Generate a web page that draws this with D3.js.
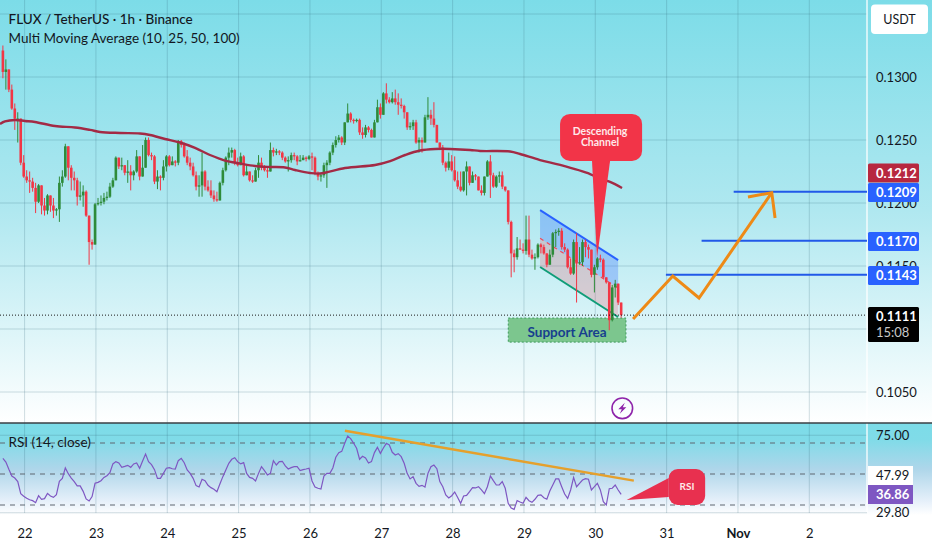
<!DOCTYPE html>
<html>
<head>
<meta charset="utf-8">
<script src="https://cdn.jsdelivr.net/npm/d3@7"></script>
<style>
html, body { margin: 0; padding: 0; background: #fff; }
svg { display: block; }
text { font-family: Lato, "Open Sans", sans-serif; fill: #131722; }
.axis path, .axis line { display: none; }
</style>
</head>
<body>
<div id="chart"></div>
<script>
var outerWidth = 932,
    outerHeight = 550,
    paneRight = 867,
    separatorY = 423;

// hourly candles, first one is about 7h before the 22nd
var candleOffset = 7.3;
var firstOpen = 0.1321;
var closes = [
0.1304,0.1306,0.1290,0.1275,0.1267,0.1267,0.1232,0.1221,0.1218,0.1217,
0.1212,0.1201,0.1214,0.1198,0.1194,0.1206,0.1198,0.1194,0.1195,0.1216,
0.1221,0.1245,0.1228,0.1220,0.1218,0.1205,0.1206,0.1209,0.1190,0.1169,
0.1167,0.1199,0.1200,0.1201,0.1204,0.1205,0.1213,0.1218,0.1236,0.1229,
0.1230,0.1224,0.1225,0.1222,0.1225,0.1237,0.1221,0.1228,0.1250,0.1238,
0.1237,0.1217,0.1221,0.1220,0.1229,0.1237,0.1230,0.1233,0.1232,0.1249,
0.1246,0.1237,0.1232,0.1229,0.1222,0.1213,0.1214,0.1225,0.1213,0.1210,
0.1206,0.1203,0.1202,0.1216,0.1226,0.1236,0.1240,0.1242,0.1232,0.1230,
0.1237,0.1222,0.1225,0.1218,0.1217,0.1226,0.1232,0.1228,0.1226,0.1225,
0.1242,0.1240,0.1241,0.1240,0.1236,0.1233,0.1234,0.1238,0.1237,0.1233,
0.1234,0.1236,0.1235,0.1237,0.1236,0.1224,0.1221,0.1222,0.1230,0.1232,
0.1240,0.1246,0.1250,0.1252,0.1248,0.1264,0.1271,0.1266,0.1265,0.1266,
0.1256,0.1254,0.1260,0.1258,0.1252,0.1264,0.1276,0.1270,0.1287,0.1282,
0.1280,0.1283,0.1280,0.1278,0.1277,0.1272,0.1260,0.1261,0.1264,0.1248,
0.1250,0.1248,0.1268,0.1270,0.1267,0.1262,0.1248,0.1244,0.1232,0.1228,
0.1233,0.1226,0.1218,0.1213,0.1210,0.1225,0.1229,0.1216,0.1222,0.1221,
0.1210,0.1208,0.1221,0.1233,0.1222,0.1213,0.1221,0.1222,0.1213,0.1210,
0.1185,0.1160,0.1157,0.1164,0.1163,0.1162,0.1171,0.1159,0.1156,0.1157,
0.1167,0.1165,0.1160,0.1151,0.1159,0.1176,0.1177,0.1178,0.1165,0.1163,
0.1149,0.1144,0.1169,0.1152,0.1153,0.1169,0.1165,0.1163,0.1143,0.1149,
0.1156,0.1155,0.1141,0.1137,0.1107,0.1133,0.1136,0.1121,0.1111];
var highs = [
0.1325,0.1314,0.1306,0.1294,0.1279,0.1272,0.1267,0.1238,0.1226,0.1225,
0.1220,0.1216,0.1215,0.1214,0.1204,0.1207,0.1206,0.1204,0.1196,0.1221,
0.1226,0.1247,0.1244,0.1230,0.1225,0.1220,0.1217,0.1214,0.1210,0.1190,
0.1171,0.1200,0.1204,0.1206,0.1208,0.1209,0.1216,0.1220,0.1237,0.1236,
0.1236,0.1230,0.1234,0.1230,0.1226,0.1242,0.1236,0.1246,0.1252,0.1252,
0.1240,0.1238,0.1226,0.1222,0.1234,0.1238,0.1238,0.1237,0.1234,0.1250,
0.1250,0.1248,0.1242,0.1236,0.1232,0.1225,0.1222,0.1240,0.1226,0.1218,
0.1218,0.1210,0.1209,0.1217,0.1228,0.1237,0.1244,0.1244,0.1243,0.1236,
0.1240,0.1238,0.1230,0.1225,0.1222,0.1228,0.1238,0.1236,0.1230,0.1228,
0.1248,0.1244,0.1243,0.1242,0.1241,0.1237,0.1237,0.1240,0.1240,0.1238,
0.1238,0.1238,0.1237,0.1238,0.1240,0.1237,0.1225,0.1223,0.1232,0.1234,
0.1241,0.1248,0.1253,0.1254,0.1253,0.1264,0.1279,0.1272,0.1267,0.1267,
0.1267,0.1260,0.1262,0.1261,0.1259,0.1266,0.1282,0.1279,0.1288,0.1295,
0.1284,0.1288,0.1290,0.1287,0.1283,0.1278,0.1272,0.1264,0.1266,0.1266,
0.1252,0.1252,0.1270,0.1284,0.1274,0.1280,0.1262,0.1248,0.1246,0.1233,
0.1240,0.1238,0.1237,0.1225,0.1225,0.1225,0.1233,0.1229,0.1225,0.1223,
0.1221,0.1214,0.1221,0.1234,0.1238,0.1224,0.1222,0.1225,0.1225,0.1213,
0.1210,0.1186,0.1163,0.1173,0.1171,0.1168,0.1190,0.1190,0.1163,0.1160,
0.1168,0.1168,0.1167,0.1160,0.1163,0.1177,0.1179,0.1180,0.1180,0.1168,
0.1164,0.1156,0.1171,0.1176,0.1165,0.1171,0.1171,0.1167,0.1163,0.1151,
0.1157,0.1159,0.1156,0.1141,0.1133,0.1135,0.1139,0.1136,0.1121];
var lows = [
0.1299,0.1290,0.1288,0.1274,0.1258,0.1248,0.1230,0.1220,0.1216,0.1208,
0.1209,0.1192,0.1200,0.1191,0.1190,0.1191,0.1193,0.1188,0.1190,0.1185,
0.1213,0.1220,0.1218,0.1210,0.1210,0.1198,0.1202,0.1197,0.1189,0.1151,
0.1163,0.1167,0.1198,0.1198,0.1199,0.1202,0.1204,0.1212,0.1218,0.1227,
0.1226,0.1222,0.1216,0.1210,0.1218,0.1224,0.1218,0.1226,0.1234,0.1237,
0.1234,0.1215,0.1211,0.1210,0.1218,0.1225,0.1229,0.1230,0.1229,0.1230,
0.1244,0.1236,0.1230,0.1226,0.1221,0.1210,0.1205,0.1205,0.1210,0.1209,
0.1204,0.1201,0.1201,0.1202,0.1214,0.1225,0.1230,0.1236,0.1230,0.1229,
0.1230,0.1221,0.1222,0.1217,0.1216,0.1217,0.1220,0.1226,0.1225,0.1220,
0.1225,0.1237,0.1238,0.1238,0.1234,0.1232,0.1225,0.1232,0.1234,0.1230,
0.1233,0.1234,0.1233,0.1234,0.1226,0.1222,0.1218,0.1217,0.1220,0.1212,
0.1230,0.1238,0.1244,0.1248,0.1246,0.1246,0.1264,0.1264,0.1263,0.1264,
0.1254,0.1251,0.1252,0.1256,0.1252,0.1252,0.1264,0.1267,0.1274,0.1279,
0.1279,0.1279,0.1278,0.1270,0.1275,0.1267,0.1258,0.1258,0.1258,0.1247,
0.1240,0.1240,0.1248,0.1266,0.1262,0.1260,0.1248,0.1242,0.1230,0.1225,
0.1226,0.1225,0.1217,0.1211,0.1209,0.1209,0.1206,0.1214,0.1218,0.1218,
0.1210,0.1206,0.1206,0.1222,0.1204,0.1212,0.1212,0.1216,0.1211,0.1209,
0.1183,0.1141,0.1145,0.1155,0.1163,0.1160,0.1159,0.1157,0.1155,0.1147,
0.1156,0.1160,0.1159,0.1149,0.1151,0.1157,0.1165,0.1174,0.1163,0.1161,
0.1148,0.1143,0.1143,0.1121,0.1151,0.1150,0.1157,0.1156,0.1141,0.1129,
0.1147,0.1153,0.1140,0.1136,0.1099,0.1106,0.1125,0.1119,0.1109];

// the 100 MA, read at irregular days
var maDays = [21.655,21.725,21.865,22.006,22.146,22.426,22.707,22.917,23.057,23.338,23.618,23.758,23.968,24.179,24.389,24.599,24.810,25.020,25.230,25.441,25.651,25.791,26.002,26.142,26.493,26.913,27.124,27.334,27.544,27.755,27.965,28.245,28.385,28.806,28.946,29.226,29.507,29.927,30.067,30.207,30.375];
var maValues = [0.12627,0.12647,0.12659,0.12651,0.12643,0.12611,0.12599,0.12580,0.12564,0.12556,0.12552,0.12540,0.12508,0.12480,0.12437,0.12381,0.12337,0.12314,0.12294,0.12286,0.12282,0.12262,0.12238,0.12234,0.12278,0.12302,0.12333,0.12381,0.12417,0.12429,0.12429,0.12421,0.12413,0.12409,0.12389,0.12341,0.12302,0.12230,0.12191,0.12167,0.12119];

var rsiValues = [
60.1,57.7,53.0,48.7,47.4,45.1,37.3,35.6,34.3,33.4,32.8,31.5,36.0,33.7,34.1,37.5,35.8,34.9,36.7,45.3,
47.2,53.9,50.2,47.4,45.1,42.3,42.3,38.8,33.9,32.6,35.4,44.0,44.6,45.7,47.8,48.9,50.9,56.5,58.0,57.1,
54.3,54.9,55.6,54.3,56.5,57.1,53.7,58.4,62.9,58.0,56.0,52.8,47.2,47.2,50.4,53.7,54.1,53.4,53.2,58.6,
60.1,57.3,52.6,50.4,47.2,42.5,41.6,46.6,45.7,42.7,41.2,40.1,38.6,43.5,48.3,52.6,56.9,59.5,60.5,58.0,
56.5,57.3,50.4,47.8,47.2,45.5,50.4,54.7,52.2,49.4,50.4,58.6,55.8,58.0,58.2,55.2,53.2,54.1,54.7,54.7,
52.2,52.8,53.2,53.7,45.5,41.6,40.8,40.3,48.7,50.4,50.4,53.9,60.8,63.8,64.6,69.8,74.5,72.8,69.8,66.6,
59.5,61.4,60.3,57.1,58.0,63.8,67.2,63.3,66.8,69.8,68.7,64.0,62.3,63.1,61.2,56.9,50.4,46.8,48.3,44.0,
42.0,42.7,41.6,50.4,54.7,55.8,53.4,45.1,41.8,36.5,34.5,36.0,38.4,34.9,31.1,35.8,36.2,38.6,41.2,41.0,
41.8,39.7,37.3,41.8,48.7,45.7,42.9,42.9,45.1,40.8,31.1,28.1,27.2,32.8,31.9,31.1,34.9,32.8,31.7,33.7,
36.2,36.5,34.7,33.7,39.0,42.9,46.8,46.8,41.8,37.1,34.3,39.7,47.8,41.8,44.0,46.1,47.0,46.6,39.7,41.8,
44.0,39.7,32.2,30.0,40.5,40.8,42.9,39.7,36.86];

var dayTicks = [22,23,24,25,26,27,28,29,30,31,32,33];
var dayLabels = ["22","23","24","25","26","27","28","29","30","31","Nov","2"];
var priceGrid = [0.105,0.11,0.115,0.12,0.125,0.13,0.135];
var priceTicks = [0.105,0.115,0.12,0.125,0.13];
var rsiBands = [70,50,30];
var rsiGrid = [75,25];
var rsiGridLabels = ["75.00","29.80"];

// drawings on the chart
var levelStarts = [30.99,31.49,31.94];
var levelPrices = [0.1143,0.1170,0.1209];
var lastPrice = 0.1111;
var maLast = 0.1212;
var channelDays = [29.226,30.32];
var channelTop = [0.11944,0.11547];
var channelMid = [0.1172,0.11325];
var channelBottom = [0.11492,0.11095];
var supportDays = [28.78,30.43];
var supportPrices = [0.11087,0.10896];
var pathDays = [30.53,31.086,31.454,32.474];
var pathPrices = [0.11079,0.1142,0.11246,0.12082];
var arrowDays = [32.14,32.474,32.52];
var arrowPrices = [0.12048,0.12082,0.11881];
var rsiTrendDays = [26.49,30.54];
var rsiTrendValues = [77.9,45.7];

var x = d3.scaleLinear().domain([22, 33]).range([24.6, 809.3]);
var y = d3.scaleLinear().domain([0.105, 0.13]).range([392, 77]);
var yRsi = d3.scaleLinear().domain([30, 70]).range([505, 443]);

function candleX(i) { return x(22 + (i - candleOffset) / 24); }

var svg = d3.select("#chart").append("svg")
    .attr("width", outerWidth)
    .attr("height", outerHeight);

var defs = svg.append("defs");
var g1 = defs.append("linearGradient").attr("id", "bgMain")
    .attr("x1", 0).attr("x2", 0).attr("y1", 0).attr("y2", 1);
g1.append("stop").attr("offset", 0).attr("stop-color", "#7cdce8");
g1.append("stop").attr("offset", 0.5).attr("stop-color", "#b0e8f0");
g1.append("stop").attr("offset", 1).attr("stop-color", "#ffffff");
var g2 = defs.append("linearGradient").attr("id", "bgRsi")
    .attr("x1", 0).attr("x2", 0).attr("y1", 0).attr("y2", 1);
g2.append("stop").attr("offset", 0).attr("stop-color", "#7cdce8");
g2.append("stop").attr("offset", 0.18).attr("stop-color", "#80dbe8");
g2.append("stop").attr("offset", 0.5).attr("stop-color", "#aed6ea");
g2.append("stop").attr("offset", 0.85).attr("stop-color", "#e6f0fa");
g2.append("stop").attr("offset", 1).attr("stop-color", "#ffffff");

svg.append("rect").attr("width", outerWidth).attr("height", separatorY)
    .attr("fill", "url(#bgMain)");
svg.append("rect").attr("y", separatorY).attr("width", outerWidth).attr("height", 92)
    .attr("fill", "url(#bgRsi)");

// grid
var gridColor = "rgba(50,100,120,0.22)";
svg.selectAll(".vgrid").data(dayTicks).enter().append("line")
    .attr("class", "vgrid")
    .attr("x1", x).attr("x2", x)
    .attr("y1", 0).attr("y2", 513)
    .attr("stroke", gridColor);
svg.selectAll(".hgrid").data(priceGrid).enter().append("line")
    .attr("class", "hgrid")
    .attr("x1", 0).attr("x2", paneRight)
    .attr("y1", y).attr("y2", y)
    .attr("stroke", gridColor);
svg.selectAll(".rgrid").data(rsiGrid).enter().append("line")
    .attr("class", "rgrid")
    .attr("x1", 0).attr("x2", paneRight)
    .attr("y1", yRsi).attr("y2", yRsi)
    .attr("stroke", gridColor);

svg.append("line")
    .attr("x1", paneRight).attr("x2", paneRight)
    .attr("y1", 0).attr("y2", 512)
    .attr("stroke", "rgba(255,255,255,0.85)").attr("stroke-width", 1.5);

// channel
var line = d3.line().x(function(d) { return x(d[0]); }).y(function(d) { return y(d[1]); });
function pts(days, values) { return days.map(function(d, i) { return [d, values[i]]; }); }
var topPts = pts(channelDays, channelTop),
    midPts = pts(channelDays, channelMid),
    botPts = pts(channelDays, channelBottom);

svg.append("path").attr("d", line(topPts.concat(midPts.slice().reverse())) + "Z")
    .attr("fill", "rgba(41,98,255,0.28)");
svg.append("path").attr("d", line(midPts.concat(botPts.slice().reverse())) + "Z")
    .attr("fill", "rgba(242,54,69,0.2)");
svg.append("path").attr("d", line(midPts)).attr("fill", "none")
    .attr("stroke", "#f2495a").attr("stroke-width", 1.2).attr("stroke-dasharray", "4 4");
svg.append("path").attr("d", line(topPts)).attr("fill", "none")
    .attr("stroke", "#2962ff").attr("stroke-width", 2);
svg.append("path").attr("d", line(botPts)).attr("fill", "none")
    .attr("stroke", "#0f9d78").attr("stroke-width", 2);

// support area
svg.append("rect")
    .attr("x", x(supportDays[0]))
    .attr("y", y(supportPrices[0]))
    .attr("width", x(supportDays[1]) - x(supportDays[0]))
    .attr("height", y(supportPrices[1]) - y(supportPrices[0]))
    .attr("fill", "#7cc68e")
    .attr("stroke", "#3f9a5c").attr("stroke-dasharray", "2 2");
svg.append("text")
    .attr("x", x((supportDays[0] + supportDays[1]) / 2))
    .attr("y", y((supportPrices[0] + supportPrices[1]) / 2) + 2)
    .attr("dy", "0.35em").attr("text-anchor", "middle")
    .style("font-size", "13.5px").style("font-weight", 700).style("fill", "#173f8e")
    .text("Support Area");

// candles
var upColor = "#2e8b3a", downColor = "#f23645";
var candles = closes.map(function(c, i) {
    return { i: i, o: i == 0 ? firstOpen : closes[i - 1], c: c, h: highs[i], l: lows[i] };
});
function candleColor(d) { return d.c >= d.o ? upColor : downColor; }

svg.selectAll(".wick").data(candles).enter().append("line")
    .attr("class", "wick")
    .attr("x1", function(d) { return candleX(d.i); })
    .attr("x2", function(d) { return candleX(d.i); })
    .attr("y1", function(d) { return y(Math.max(d.h, d.o, d.c)); })
    .attr("y2", function(d) { return y(Math.min(d.l, d.o, d.c)); })
    .attr("stroke", candleColor).attr("stroke-width", 1);
svg.selectAll(".body").data(candles).enter().append("rect")
    .attr("class", "body")
    .attr("x", function(d) { return candleX(d.i) - 1.3; })
    .attr("width", 2.6)
    .attr("y", function(d) { return y(Math.max(d.o, d.c)); })
    .attr("height", function(d) { return Math.max(1, Math.abs(y(d.o) - y(d.c))); })
    .attr("fill", candleColor);

// MA
svg.append("path")
    .attr("d", d3.line().curve(d3.curveCatmullRom)
        .x(function(d) { return x(d[0]); }).y(function(d) { return y(d[1]); })(pts(maDays, maValues)))
    .attr("fill", "none").attr("stroke", "#a32a45").attr("stroke-width", 2.4);

// last price line
svg.append("line")
    .attr("x1", 0).attr("x2", paneRight)
    .attr("y1", y(lastPrice)).attr("y2", y(lastPrice))
    .attr("stroke", "#1a1a1a").attr("stroke-dasharray", "1 2");

// target levels
svg.selectAll(".level").data(levelPrices).enter().append("line")
    .attr("class", "level")
    .attr("x1", function(d, i) { return x(levelStarts[i]); })
    .attr("x2", paneRight)
    .attr("y1", y).attr("y2", y)
    .attr("stroke", "#2159e8").attr("stroke-width", 2);

// projected path
svg.append("path").attr("d", line(pts(pathDays, pathPrices)))
    .attr("fill", "none").attr("stroke", "#ee8a16").attr("stroke-width", 3);
svg.append("path").attr("d", line(pts(arrowDays, arrowPrices)))
    .attr("fill", "none").attr("stroke", "#ee8a16").attr("stroke-width", 3);

// Descending Channel callout
var calloutRed = "#f23448";
var calloutDays = [29.506, 30.656], calloutPrices = [0.12707, 0.12333];
var calloutTip = [[29.954, 0.12333], [30.024, 0.11563], [30.207, 0.12333]];
svg.append("path").attr("d", line(calloutTip) + "Z").attr("fill", calloutRed);
svg.append("rect")
    .attr("x", x(calloutDays[0])).attr("y", y(calloutPrices[0]))
    .attr("width", x(calloutDays[1]) - x(calloutDays[0]))
    .attr("height", y(calloutPrices[1]) - y(calloutPrices[0]))
    .attr("rx", 10).attr("fill", calloutRed);
svg.selectAll(".callText").data(["Descending", "Channel"]).enter().append("text")
    .attr("class", "callText")
    .attr("x", x((calloutDays[0] + calloutDays[1]) / 2) - 1)
    .attr("y", function(d, i) { return y(calloutPrices[0]) + 17.5 + i * 11; })
    .attr("dy", "0.35em").attr("text-anchor", "middle")
    .style("font-size", "10.5px").style("font-weight", 700).style("fill", "#ffe9ea")
    .text(function(d) { return d; });

// lightning mark
var bolt = svg.append("g").attr("transform", "translate(622.3,408.3)");
bolt.append("circle").attr("r", 10.3).attr("fill", "none")
    .attr("stroke", "#8e24aa").attr("stroke-width", 1.6);
bolt.append("path").attr("d", "M2.5,-5.5 L-4,1 L-0.5,1 L-2.5,5.5 L4,-1 L0.5,-1 Z").attr("fill", "#8e24aa");

// separator
svg.append("line").attr("x1", 0).attr("x2", outerWidth)
    .attr("y1", separatorY).attr("y2", separatorY)
    .attr("stroke", "#3a3f45").attr("stroke-width", 1.4);

// RSI pane
svg.selectAll(".band").data(rsiBands).enter().append("line")
    .attr("class", "band")
    .attr("x1", 0).attr("x2", paneRight)
    .attr("y1", yRsi).attr("y2", yRsi)
    .attr("stroke", "#5f6670").attr("stroke-dasharray", "5 5");
svg.append("path")
    .attr("d", d3.line()
        .x(function(d, i) { return candleX(i); })
        .y(function(d) { return yRsi(d); })(rsiValues))
    .attr("fill", "none").attr("stroke", "#7e57c2").attr("stroke-width", 1.2);
svg.append("path")
    .attr("d", d3.line().x(function(d) { return x(d[0]); }).y(function(d) { return yRsi(d[1]); })(pts(rsiTrendDays, rsiTrendValues)))
    .attr("fill", "none").attr("stroke", "#e5a02c").attr("stroke-width", 2.4);

var rsiTip = [[31.03, 47.4], [30.44, 33.2], [31.03, 35.2]];
svg.append("path")
    .attr("d", d3.line().x(function(d) { return x(d[0]); }).y(function(d) { return yRsi(d[1]); })(rsiTip) + "Z")
    .attr("fill", "#e8304f");
svg.append("rect")
    .attr("x", x(31.03)).attr("y", yRsi(53.2))
    .attr("width", x(31.54) - x(31.03)).attr("height", yRsi(30) - yRsi(53.2))
    .attr("rx", 9).attr("fill", "#e8304f");
svg.append("text")
    .attr("x", x(31.285)).attr("y", 486.5).attr("dy", "0.35em").attr("text-anchor", "middle")
    .style("font-size", "10px").style("font-weight", 700).style("fill", "#ffe9ea")
    .text("RSI");

// axes
var priceAxis = d3.axisRight(y).tickValues(priceTicks).tickSize(0)
    .tickFormat(d3.format(".4f"));
var priceG = svg.append("g").attr("class", "axis")
    .attr("transform", "translate(876,0)").call(priceAxis);
priceG.selectAll("text").attr("x", 0).style("font-size", "13px");
var rsiAxis = d3.axisRight(yRsi).tickValues(rsiGrid).tickSize(0)
    .tickFormat(function(d, i) { return rsiGridLabels[i]; });
var rsiG = svg.append("g").attr("class", "axis")
    .attr("transform", "translate(876,0)").call(rsiAxis);
rsiG.selectAll("text").attr("x", 0).style("font-size", "13px");

var dayAxis = d3.axisBottom(x).tickValues(dayTicks).tickSize(0)
    .tickFormat(function(d, i) { return dayLabels[i]; });
var dayG = svg.append("g").attr("class", "axis")
    .attr("transform", "translate(0,529)").call(dayAxis);
dayG.selectAll("text").attr("y", 0).attr("dy", "0.72em").style("font-size", "13px");
dayG.selectAll("text").filter(function(d) { return d == 32; }).style("font-weight", 700);

// price tags
var boxLabels = [
    { v: y(maLast), t: "0.1212", c: "#b7283f", top: 163.5 },
    { v: y(levelPrices[2]), t: "0.1209", c: "#2962ff", top: 183 },
    { v: y(levelPrices[1]), t: "0.1170", c: "#2962ff", top: 232 },
    { v: y(levelPrices[0]), t: "0.1143", c: "#2962ff", top: 266 }
];
var tags = svg.selectAll(".tag").data(boxLabels).enter().append("g").attr("class", "tag");
tags.append("rect")
    .attr("x", 868).attr("y", function(d) { return d.top; })
    .attr("width", 51).attr("height", 19).attr("rx", 1.5)
    .attr("fill", function(d) { return d.c; });
tags.append("text")
    .attr("x", 876).attr("y", function(d) { return d.top + 9.5; }).attr("dy", "0.35em")
    .style("font-size", "13px").style("font-weight", 700).style("fill", "#fff")
    .text(function(d) { return d.t; });

svg.append("rect").attr("x", 868).attr("y", 307).attr("width", 51).attr("height", 35)
    .attr("rx", 1.5).attr("fill", "#000");
svg.append("text").attr("x", 876).attr("y", 316.5).attr("dy", "0.35em")
    .style("font-size", "13px").style("font-weight", 700).style("fill", "#fff").text("0.1111");
svg.append("text").attr("x", 876).attr("y", 332).attr("dy", "0.35em")
    .style("font-size", "13px").style("fill", "#c8c8c8").text("15:08");

svg.append("rect").attr("x", 868).attr("y", 466).attr("width", 45).attr("height", 19)
    .attr("fill", "#fff");
svg.append("text").attr("x", 876).attr("y", 475.5).attr("dy", "0.35em")
    .style("font-size", "13px").text("47.99");
svg.append("rect").attr("x", 868).attr("y", 485).attr("width", 45).attr("height", 19)
    .attr("fill", "#7e57c2");
svg.append("text").attr("x", 876).attr("y", 494.5).attr("dy", "0.35em")
    .style("font-size", "13px").style("font-weight", 700).style("fill", "#fff").text("36.86");

svg.append("rect").attr("x", 871).attr("y", 4.5).attr("width", 57).attr("height", 29.5)
    .attr("rx", 4).attr("fill", "#fff");
svg.append("text").attr("x", 899.5).attr("y", 20).attr("dy", "0.35em").attr("text-anchor", "middle")
    .style("font-size", "12.5px").text("USDT");

// titles
svg.append("text").attr("x", 8.5).attr("y", 19).attr("dy", "0.35em")
    .style("font-size", "13.5px").style("font-weight", 500).text("FLUX / TetherUS · 1h · Binance");
svg.append("text").attr("x", 8.5).attr("y", 38).attr("dy", "0.35em")
    .style("font-size", "13.5px").text("Multi Moving Average (10, 25, 50, 100)");
svg.append("text").attr("x", 8.5).attr("y", 442.5).attr("dy", "0.35em")
    .style("font-size", "13.5px").text("RSI (14, close)");
</script>
</body>
</html>
